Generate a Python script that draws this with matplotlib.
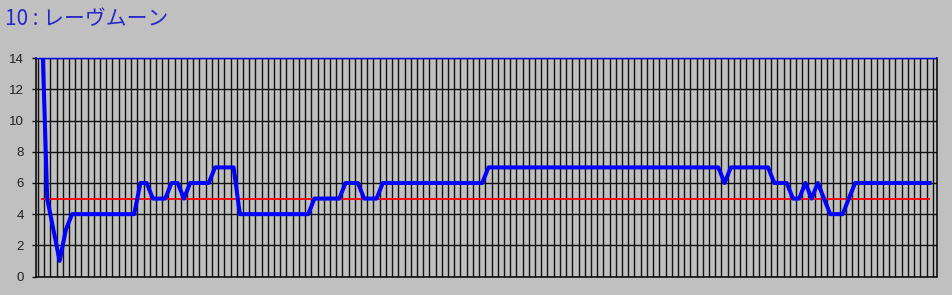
import numpy as np
import matplotlib.pyplot as plt

# 말 이름과 순위 데이터
title_text = '10 : レーヴムーン'
# 제목 문자열입니다.

rank = [18, 5, 3, 1, 3, 4, 4, 4, 4, 4,
        4, 4, 4, 4, 4, 4, 6, 6, 5, 5,
        5, 6, 6, 5, 6, 6, 6, 6, 7, 7,
        7, 7, 4, 4, 4, 4, 4, 4, 4, 4,
        4, 4, 4, 4, 5, 5, 5, 5, 5, 6,
        6, 6, 5, 5, 5, 6, 6, 6, 6, 6,
        6, 6, 6, 6, 6, 6, 6, 6, 6, 6,
        6, 6, 7, 7, 7, 7, 7, 7, 7, 7,
        7, 7, 7, 7, 7, 7, 7, 7, 7, 7,
        7, 7, 7, 7, 7, 7, 7, 7, 7, 7,
        7, 7, 7, 7, 7, 7, 7, 7, 7, 7,
        6, 7, 7, 7, 7, 7, 7, 7, 6, 6,
        6, 5, 5, 6, 5, 6, 5, 4, 4, 4,
        5, 6, 6, 6, 6, 6, 6, 6, 6, 6,
        6, 6, 6, 6]
# 시간 순서대로의 값입니다.

base_line = 5
# 빨간 기준선 값입니다.

y_ticks = [0, 2, 4, 6, 8, 10, 12, 14]
# y축 눈금입니다.

x = np.arange(len(rank))
# 데이터 포인트의 위치입니다.

plt.rcParams['font.family'] = ['Liberation Sans', 'DejaVu Sans']

fig = plt.figure(figsize=(9.52, 2.95), dpi=100, facecolor='#c0c0c0')
# 그래프 크기와 배경색을 설정합니다.
ax = fig.add_axes([35.7 / 952, 1 - 276.5 / 295, (936.5 - 35.7) / 952, (276.5 - 58.3) / 295])
ax.set_facecolor('#c0c0c0')

ax.set_xlim(-0.85, len(rank) + 0.1)
ax.set_ylim(0, 14)

# 세로 격자선 (구간 경계)
ax.set_xticks(np.arange(-0.5, len(rank), 1))
ax.set_xticklabels([])
ax.tick_params(axis='x', length=0)
ax.set_yticks(y_ticks)
ax.set_yticklabels([str(v) for v in y_ticks], fontsize=9.5, color='#202020')
ax.tick_params(axis='y', length=3, width=1, color='#101010', pad=5.5)
ax.grid(True, color='#101010', linewidth=1.0)
ax.set_axisbelow(True)

for side in ['left', 'bottom', 'right']:
    ax.spines[side].set_color('#101010')
    ax.spines[side].set_linewidth(1.2)
ax.spines['top'].set_color('#0000ff')
ax.spines['top'].set_linewidth(1.0)

ax.hlines(base_line, x[0], x[-1], color='#ff0000', linewidth=1.3, zorder=3)
# 기준선을 그립니다.
ax.plot(x, rank, color='#0000ff', linewidth=2.9, zorder=4)
# 순위 변화를 파란 선으로 그립니다.

fig.text(5 / 952, 1 - 19 / 295, title_text, color='#2828c8', fontsize=15,
         va='center', ha='left', family=['Noto Sans CJK JP', 'DejaVu Sans'])
# 제목을 왼쪽 위에 씁니다.

fig.savefig('out.png', dpi=100, facecolor=fig.get_facecolor())
